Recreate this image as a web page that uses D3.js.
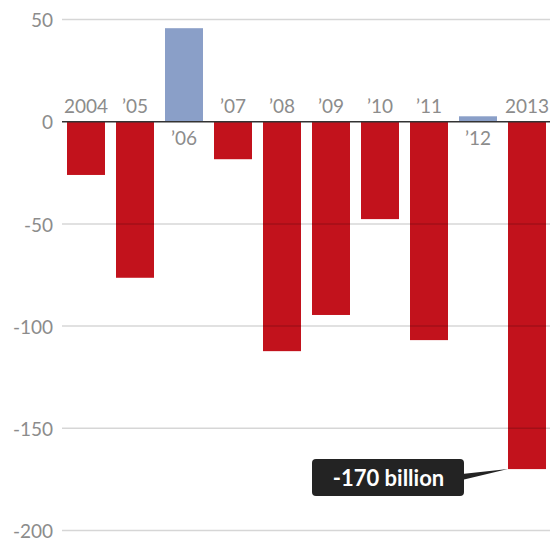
<!DOCTYPE html>
<html>
<head>
<meta charset="utf-8">
<script src="https://cdn.jsdelivr.net/npm/d3@7"></script>
<style>
  html, body { margin: 0; padding: 0; background: #fff; }
  svg { display: block; }
  text { font-family: Lato, "Open Sans", sans-serif; }
</style>
</head>
<body>
<svg id="chart" width="550" height="541"></svg>
<script>
const categories = ["2004", "\u201905", "\u201906", "\u201907", "\u201908", "\u201909", "\u201910", "\u201911", "\u201912", "2013"];
const values = [-26.3, -76.6, 45.5, -18.6, -112.5, -94.8, -47.9, -107.1, 2.4, -170.2];
const yTicks = [50, 0, -50, -100, -150, -200];
const annotationText = "-170 billion";
const annotationIndex = 9;

const svg = d3.select("#chart");
const W = 550;

const y = d3.scaleLinear().domain([50, -200]).range([19, 530]);
const x = d3.scaleBand().domain(categories).range([62, 551]).paddingInner(0.2245).paddingOuter(0.102);

// bars
svg.append("g").selectAll("rect").data(values).join("rect")
  .attr("x", (d, i) => x(categories[i]))
  .attr("width", x.bandwidth())
  .attr("y", d => y(Math.max(0, d)))
  .attr("height", d => Math.abs(y(d) - y(0)))
  .attr("fill", d => d >= 0 ? "#8a9fc8" : "#c2121c");

// gridlines (on top, translucent)
const yAxis = d3.axisLeft(y).tickValues(yTicks).tickSize(-(W - 62)).tickFormat(d => d);
const gAxis = svg.append("g").attr("transform", "translate(62,0)").call(yAxis);
gAxis.select(".domain").remove();
gAxis.selectAll(".tick line")
  .attr("stroke", d => d === 0 ? "#333" : "rgba(0,0,0,0.16)")
  .attr("stroke-width", d => d === 0 ? 1.6 : 1.5);
gAxis.selectAll(".tick text")
  .attr("x", -9)
  .attr("dy", "0.4em")
  .attr("fill", "#8c8c8c")
  .style("font-size", "19px")
  .style("font-family", "Lato, sans-serif");

// category labels
svg.append("g").selectAll("text").data(values).join("text")
  .attr("x", (d, i) => x(categories[i]) + x.bandwidth() / 2)
  .attr("y", d => d >= 0 ? y(0) + 24 : y(0) - 8.5)
  .attr("text-anchor", "middle")
  .attr("fill", "#8c8c8c")
  .style("font-size", "19px")
  .text((d, i) => categories[i]);

// annotation
const tipX = x(categories[annotationIndex]);
const tipY = y(values[annotationIndex]);
const ann = svg.append("g");
const boxX = 312, boxY = 459, boxW = 152, boxH = 37;
ann.append("path")
  .attr("d", `M${boxX + boxW - 2},${boxY + 15} L${tipX},${tipY} L${boxX + boxW - 2},${boxY + 21} Z`)
  .attr("fill", "#232323");
ann.append("rect")
  .attr("x", boxX).attr("y", boxY).attr("width", boxW).attr("height", boxH)
  .attr("rx", 4).attr("fill", "#232323");
ann.append("text")
  .attr("x", boxX + boxW / 2 + 0.5).attr("y", boxY + 26.5)
  .attr("text-anchor", "middle")
  .attr("fill", "#fff")
  .style("font-size", "22px")
  .style("font-weight", "bold")
  .text(annotationText);
</script>
</body>
</html>
